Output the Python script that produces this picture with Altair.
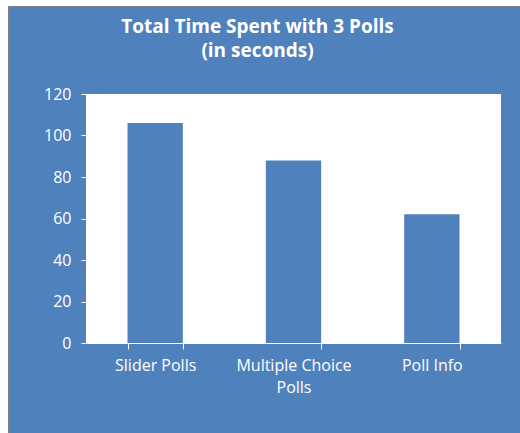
import altair as alt
import pandas as pd

categories = ["Slider Polls", "Multiple Choice Polls", "Poll Info"]
seconds = [106, 88, 62]
y_ticks = [0, 20, 40, 60, 80, 100, 120]
title_lines = ["Total Time Spent with 3 Polls", "(in seconds)"]

df = pd.DataFrame({"category": categories, "seconds": seconds})
one = pd.DataFrame({"k": [0]})

W, H = 415, 249
BLUE = "#4F81BD"
FONT = "Open Sans"

frame = alt.Chart(one).mark_rect(fill=BLUE, stroke="#7F7F7F", strokeWidth=1).encode(
    x=alt.value(-77.5), x2=alt.value(460), y=alt.value(-87.5), y2=alt.value(360)
)
plot_bg = alt.Chart(one).mark_rect(fill="white").encode(
    x=alt.value(0), x2=alt.value(W), y=alt.value(0), y2=alt.value(H)
)

bars = alt.Chart(df).mark_bar(color=BLUE).encode(
    x=alt.X(
        "category:N",
        sort=categories,
        title=None,
        scale=alt.Scale(paddingInner=0.6, paddingOuter=0.3),
        axis=alt.Axis(
            tickBand="extent",
            labelAngle=0,
            labelColor="white",
            labelFont=FONT,
            labelFontSize=16,
            labelPadding=8,
            labelLineHeight=22,
            labelBaseline="top",
            labelExpr="datum.value == 'Multiple Choice Polls' ? ['Multiple Choice', 'Polls'] : datum.value",
            tickColor="white",
            tickSize=6,
            domainColor="white",
            zindex=1,
        ),
    ),
    y=alt.Y(
        "seconds:Q",
        title=None,
        scale=alt.Scale(domain=[0, 120]),
        axis=alt.Axis(
            values=y_ticks,
            grid=False,
            labelColor="white",
            labelFont=FONT,
            labelFontSize=16,
            labelPadding=10,
            tickColor="white",
            tickSize=5,
            domain=False,
            zindex=1,
        ),
    ),
)

chart = alt.layer(frame, plot_bg, bars).properties(
    width=W,
    height=H,
    autosize=alt.AutoSizeParams(type="none"),
    padding={"left": 86, "top": 94, "right": 19, "bottom": 90},
    background="white",
    title=alt.TitleParams(
        text=title_lines,
        anchor="middle",
        frame="group",
        dx=-36,
        offset=-55,
        color="white",
        font=FONT,
        fontSize=19,
        fontWeight="bold",
        lineHeight=24,
    ),
).configure_view(stroke=None)

chart.save("out.html", embed_options={"renderer": "svg", "actions": False})
